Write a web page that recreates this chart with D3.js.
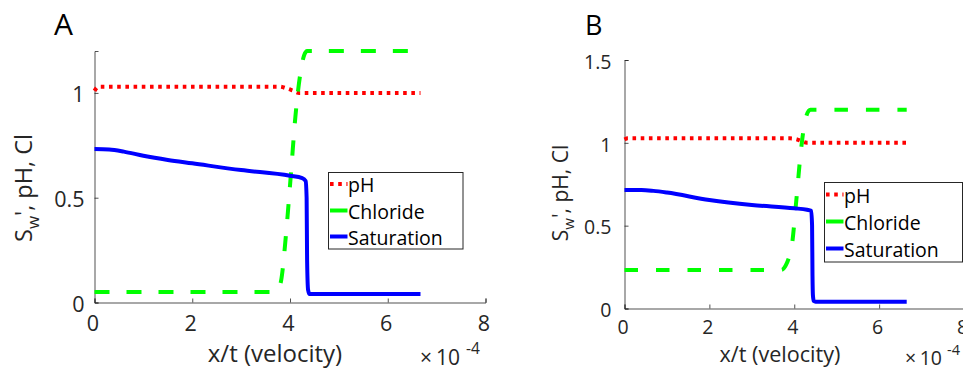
<!DOCTYPE html>
<html><head><meta charset="utf-8">
<script src="https://cdn.jsdelivr.net/npm/d3@7/dist/d3.min.js"></script>
<style>
html,body{margin:0;padding:0;background:#fff;}
svg{display:block;font-family:"Open Sans",sans-serif;}
</style></head>
<body>
<svg id="c" width="963" height="369"></svg>
<script>
// ---- data (velocity x/t in units of 1e-4) ----
const xTicks = [0, 2, 4, 6, 8];
const yTicksA = [0, 0.5, 1];
const yTicksB = [0, 0.5, 1, 1.5];
const seriesNames = ["pH", "Chloride", "Saturation"];

const phA_x  = [0, 0.08, 3.78, 3.95, 4.05, 4.19, 6.67];
const phA_y  = [1.01, 1.03, 1.03, 1.02, 1.012, 1.0, 1.0];
const clA_x  = [0, 3.7, 3.78, 3.82, 3.92, 4.02, 4.11, 4.21, 4.29, 4.35, 6.67];
const clA_y  = [0.05, 0.05, 0.07, 0.107, 0.33, 0.617, 0.886, 1.09, 1.18, 1.2, 1.2];
const swA_x  = [0, 0.3, 0.6, 1, 1.5, 2, 3, 4, 4.25, 4.32, 4.34, 4.35, 4.37, 4.4, 6.67];
const swA_y  = [0.732, 0.73, 0.72, 0.70, 0.68, 0.664, 0.632, 0.605, 0.594, 0.58, 0.5, 0.2, 0.06, 0.04, 0.04];

const phB_x  = [0, 0.08, 3.9, 4.05, 4.15, 4.3, 6.65];
const phB_y  = [1.02, 1.027, 1.027, 1.022, 1.012, 1.0, 1.0];
const clB_x  = [0, 3.7, 3.8, 3.9, 3.94, 4.05, 4.16, 4.27, 4.38, 6.65];
const clB_y  = [0.233, 0.233, 0.26, 0.33, 0.375, 0.657, 0.96, 1.15, 1.2, 1.2];
const swB_x  = [0, 0.4, 0.68, 1, 2, 3, 4, 4.3, 4.4, 4.42, 4.43, 4.44, 4.46, 4.5, 6.65];
const swB_y  = [0.715, 0.715, 0.71, 0.70, 0.655, 0.625, 0.605, 0.596, 0.59, 0.5, 0.2, 0.08, 0.045, 0.041, 0.041];

const panels = [
  {label:"A", yMax:1.2, yTicks:yTicksA,
   series:[[phA_x,phA_y],[clA_x,clA_y],[swA_x,swA_y]],
   x0:94.5, x1:485.5, y0:302.5, y1:51, tickFs:21.5, xPad:13, yPad:10, labFs:24, ylabFs:23.5,
   dash:"15,17", dot:"3.6,4.6", lw:4,
   title:{x:54, y:35, fs:30},
   xlab:{x:275, y:361.5}, ylab:{x:32, y:188},
   exp:{x:420, y:364.5, fs:21, sfs:15.5, gap:4, sdx:6, sdy:-11},
   legend:{x:328.5, y:172.5, w:134.5, h:76.5, rows:[184,210.5,236.5], fs:19.5}},
  {label:"B", yMax:1.5, yTicks:yTicksB,
   series:[[phB_x,phB_y],[clB_x,clB_y],[swB_x,swB_y]],
   x0:624.5, x1:964, y0:308.5, y1:60, tickFs:19.5, xPad:12, yPad:13, labFs:21.6, ylabFs:21,
   dash:"13.5,18", dot:"3.6,4.6", lw:4,
   title:{x:585, y:35, fs:27},
   xlab:{x:780, y:362}, ylab:{x:568, y:193},
   exp:{x:905, y:364.5, fs:19.5, sfs:14.5, gap:3.5, sdx:5, sdy:-10},
   legend:{x:824.5, y:182.5, w:138, h:79.5, rows:[194.5,221.5,248.5], fs:19.5}}
];
const colors = ["#ff0000", "#00ff00", "#0000ff"];

const svg = d3.select("#c");
const axisColor = "#262626";

panels.forEach(p => {
  const x = d3.scaleLinear().domain([0, 8]).range([p.x0, p.x1]);
  const y = d3.scaleLinear().domain([0, p.yMax]).range([p.y0, p.y1]);
  const g = svg.append("g");

  // axes (inward ticks, no box)
  const xa = g.append("g").attr("transform", `translate(0,${p.y0})`)
    .call(d3.axisBottom(x).tickValues(xTicks).tickSize(-4).tickPadding(p.xPad).tickFormat(d3.format("d")));
  const ya = g.append("g").attr("transform", `translate(${p.x0},0)`)
    .call(d3.axisLeft(y).tickValues(p.yTicks).tickSize(-4).tickPadding(p.yPad).tickFormat(d => d === 0 ? "0" : d3.format("")(d)));
  [xa, ya].forEach(a => {
    a.select(".domain").attr("stroke", axisColor).attr("stroke-opacity", 0.8).attr("stroke-width", 1);
    a.selectAll(".tick line").attr("stroke", axisColor).attr("stroke-opacity", 0.8);
    a.selectAll(".tick text").attr("fill", axisColor).attr("font-size", p.tickFs)
      .attr("font-family", '"Open Sans",sans-serif');
  });
  xa.selectAll(".tick text").attr("dx", -2);
  ya.selectAll(".tick text").attr("dy", "0.42em");

  // series lines
  const dashes = [p.dot, p.dash, null];
  p.series.forEach((s, i) => {
    const pts = s[0].map((v, k) => [v, s[1][k]]);
    const line = d3.line().x(d => x(d[0])).y(d => y(d[1])).curve(d3.curveMonotoneX);
    g.append("path").attr("d", line(pts)).attr("fill", "none")
      .attr("stroke", colors[i]).attr("stroke-width", p.lw)
      .attr("stroke-dasharray", dashes[i]).attr("stroke-linejoin", "round");
  });

  // panel letter
  g.append("text").attr("x", p.title.x).attr("y", p.title.y).attr("font-size", p.title.fs)
    .attr("fill", "#000").text(p.label);

  // x label
  g.append("text").attr("x", p.xlab.x).attr("y", p.xlab.y).attr("text-anchor", "middle")
    .attr("font-size", p.labFs).attr("fill", axisColor).text("x/t (velocity)");

  // y label
  const yl = g.append("text").attr("transform", `translate(${p.ylab.x},${p.ylab.y}) rotate(-90)`)
    .attr("text-anchor", "middle").attr("font-size", p.ylabFs).attr("fill", axisColor);
  yl.append("tspan").text("S");
  yl.append("tspan").attr("font-size", p.ylabFs * 0.72).attr("dy", p.ylabFs * 0.28).text("w");
  yl.append("tspan").attr("dy", -p.ylabFs * 0.28).text("', pH, Cl");

  // exponent of x axis
  const E = p.exp;
  const ex = g.append("text").attr("x", E.x).attr("y", E.y).attr("font-size", E.fs).attr("fill", axisColor);
  ex.append("tspan").text("×");
  ex.append("tspan").attr("dx", E.gap).text("10");
  ex.append("tspan").attr("dx", E.sdx).attr("dy", E.sdy).attr("font-size", E.sfs).text("-4");

  // legend
  const L = p.legend;
  g.append("rect").attr("x", L.x).attr("y", L.y).attr("width", L.w).attr("height", L.h)
    .attr("fill", "#fff").attr("stroke", axisColor).attr("stroke-width", 1);
  seriesNames.forEach((n, i) => {
    const ly = L.rows[i];
    g.append("line").attr("x1", L.x + 1.5).attr("x2", L.x + 19).attr("y1", ly).attr("y2", ly)
      .attr("stroke", colors[i]).attr("stroke-width", p.lw)
      .attr("stroke-dasharray", i === 0 ? p.dot : null);
    g.append("text").attr("x", L.x + 19.5).attr("y", ly + 8).attr("font-size", L.fs)
      .attr("fill", "#000").text(n);
  });
});
</script>
</body></html>
